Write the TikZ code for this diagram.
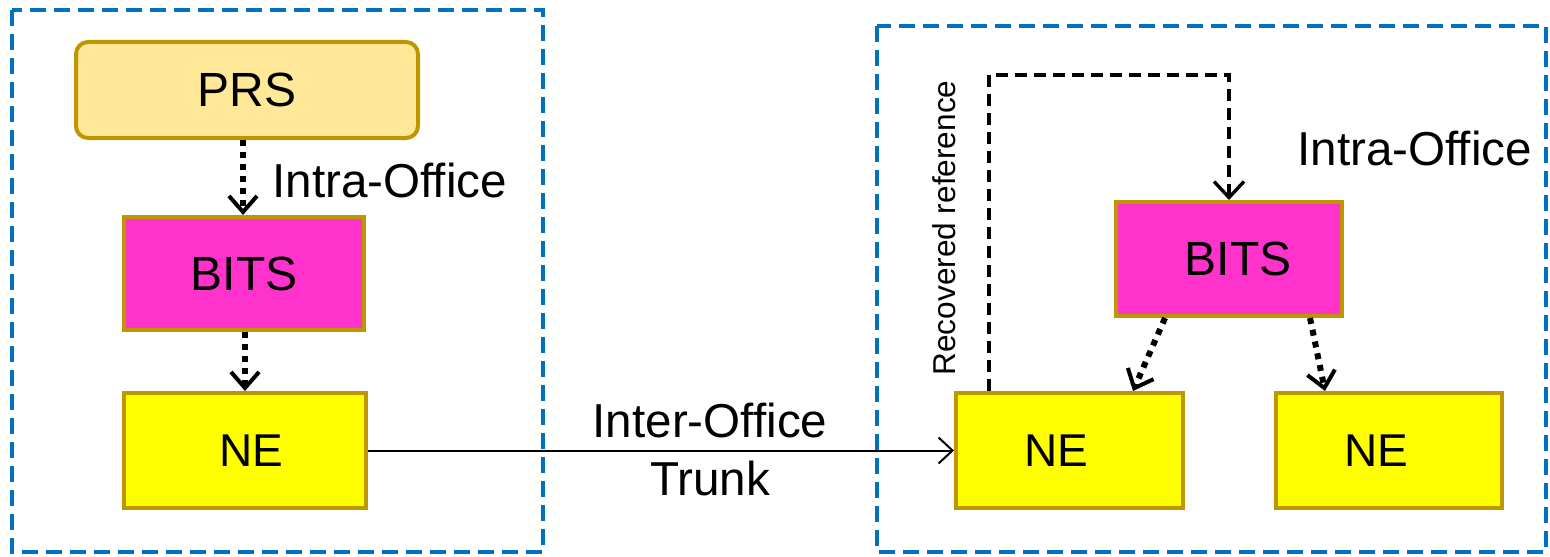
\documentclass[tikz,border=0pt]{standalone}
\usepackage{fontspec}
\setmainfont{Liberation Sans}
\usetikzlibrary{arrows.meta}
\definecolor{gold}{HTML}{C09600}
\definecolor{prsfill}{HTML}{FFE999}
\definecolor{bitsfill}{HTML}{FF33CC}
\definecolor{nefill}{HTML}{FFFF00}
\definecolor{officeblue}{HTML}{0070C0}
\tikzset{
  box/.style={draw=gold, line width=2pt, inner sep=0pt, font=\fontsize{24}{28}\selectfont},
  prsbox/.style={box, fill=prsfill, rounded corners=6pt},
  bitsbox/.style={box, fill=bitsfill},
  nebox/.style={box, fill=nefill, font=\fontsize{23}{28}\selectfont},
  office/.style={draw=officeblue, line width=2pt, dash pattern=on 8pt off 4pt},
  dotarrow/.style={line width=3pt, dash pattern=on 3pt off 3pt, -{Straight Barb[length=8pt,width=14pt,line width=2pt]}},
  refarrow/.style={line width=1.7pt, dash pattern=on 6pt off 3.5pt, -{Straight Barb[length=8pt,width=15pt,line width=1.7pt]}},
  trunkarrow/.style={line width=1pt, -{Straight Barb[length=7pt,width=13pt,line width=1pt]}},
  lbl/.style={inner sep=0pt, font=\fontsize{23.8}{28}\selectfont},
}
\begin{document}
\begin{tikzpicture}[x=0.5pt, y=-0.5pt]
\useasboundingbox (0,0) rectangle (1550,556);
% office frames
\draw[office] (12,10) rectangle (543,552);
\draw[office] (877,26) rectangle (1546,552);
% nodes
\node[prsbox, minimum width=171pt, minimum height=48pt] (PRS) at (247,90) {PRS};
\node[bitsbox, minimum width=120pt, minimum height=56.5pt] (BITSL) at (244,273.5) {BITS};
\node[nebox, minimum width=121pt, minimum height=57.5pt] (NEL) at (245,450.5) {\hspace{6pt}NE};
\node[bitsbox, minimum width=113pt, minimum height=57pt] (BITSR) at (1229,259) {\hspace{9pt}BITS};
\node[nebox, minimum width=113.5pt, minimum height=57.5pt] (NE1) at (1069.5,450.5) {NE\kern13pt};
\node[nebox, minimum width=113pt, minimum height=57.5pt] (NE2) at (1389,450.5) {NE\kern13pt};
% labels
\node[lbl, anchor=west] (intraL) at (272,180) {Intra-Office};
\node[lbl, anchor=west] (intraR) at (1297,148) {Intra-Office};
\node[lbl] (inter) at (710,420) {Inter-Office};
\node[lbl] (trunk) at (710,478) {Trunk};
\node[inner sep=0pt, rotate=90, font=\fontsize{15.8}{18}\selectfont] (recref) at (944,228) {Recovered reference};
% connectors
\draw[dotarrow] ([xshift=-2pt]PRS.south) -- ([xshift=-0.5pt]BITSL.north);
\draw[dotarrow] ([xshift=0.5pt]BITSL.south) -- (NEL.north);
\draw[dotarrow] ([xshift=-32pt]BITSR.south) -- ([xshift=31.75pt]NE1.north);
\draw[dotarrow] ([xshift=40.5pt]BITSR.south) -- ([xshift=-32pt]NE2.north);
\coordinate (turn) at (989,75);
\draw[refarrow] ([xshift=-40.25pt]NE1.north) -- (turn) -| (BITSR.north);
\draw[trunkarrow] (NEL.east) -- (NE1.west);
\end{tikzpicture}
\end{document}
